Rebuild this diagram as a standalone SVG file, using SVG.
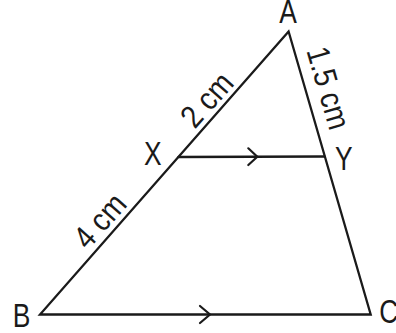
<svg xmlns="http://www.w3.org/2000/svg" width="396" height="333" viewBox="0 0 396 333">
<style>
.ln{stroke:#1a1a1a;stroke-width:2.3;fill:none;stroke-linecap:round;stroke-linejoin:miter}
.ar{stroke:#1a1a1a;stroke-width:2.2;fill:none;stroke-linecap:round;stroke-linejoin:miter}
.lbl{font-family:"Liberation Sans",Arial,sans-serif;font-size:33px;fill:#1a1a1a}
.len{font-family:"Liberation Sans",Arial,sans-serif;font-size:32px;fill:#1a1a1a;text-anchor:middle}
</style>
<rect width="396" height="333" fill="#ffffff"/>
<g id="connectors">
<path class="ln" d="M288.6,31.5 L40,314.5 L370.7,314.5 Z"/>
<path class="ln" d="M178.5,157 L324.5,156.5"/>
<path class="ar" d="M248.3,148.3 L257.3,156.7 L248.3,165"/>
<path class="ar" d="M200,306 L210,314.5 L200,323"/>
</g>
<g id="node-A"><text class="lbl" transform="translate(279.3,22.5) scale(0.8,1)">A</text></g>
<g id="node-B"><text class="lbl" transform="translate(12.7,326.5) scale(0.8,1)">B</text></g>
<g id="node-C"><text class="lbl" transform="translate(379.3,322.5) scale(0.8,1)">C</text></g>
<g id="node-X"><text class="lbl" transform="translate(144,165) scale(0.8,1)">X</text></g>
<g id="node-Y"><text class="lbl" transform="translate(335,169.5) scale(0.8,1)">Y</text></g>
<g id="labels">
<text class="len" transform="translate(215,107) rotate(-48.6) scale(0.88,1)">2 cm</text>
<text class="len" transform="translate(108,228) rotate(-48.6) scale(0.88,1)">4 cm</text>
<text class="len" transform="translate(318,91) rotate(73.8) scale(0.88,1)">1.5 cm</text>
</g>
</svg>
